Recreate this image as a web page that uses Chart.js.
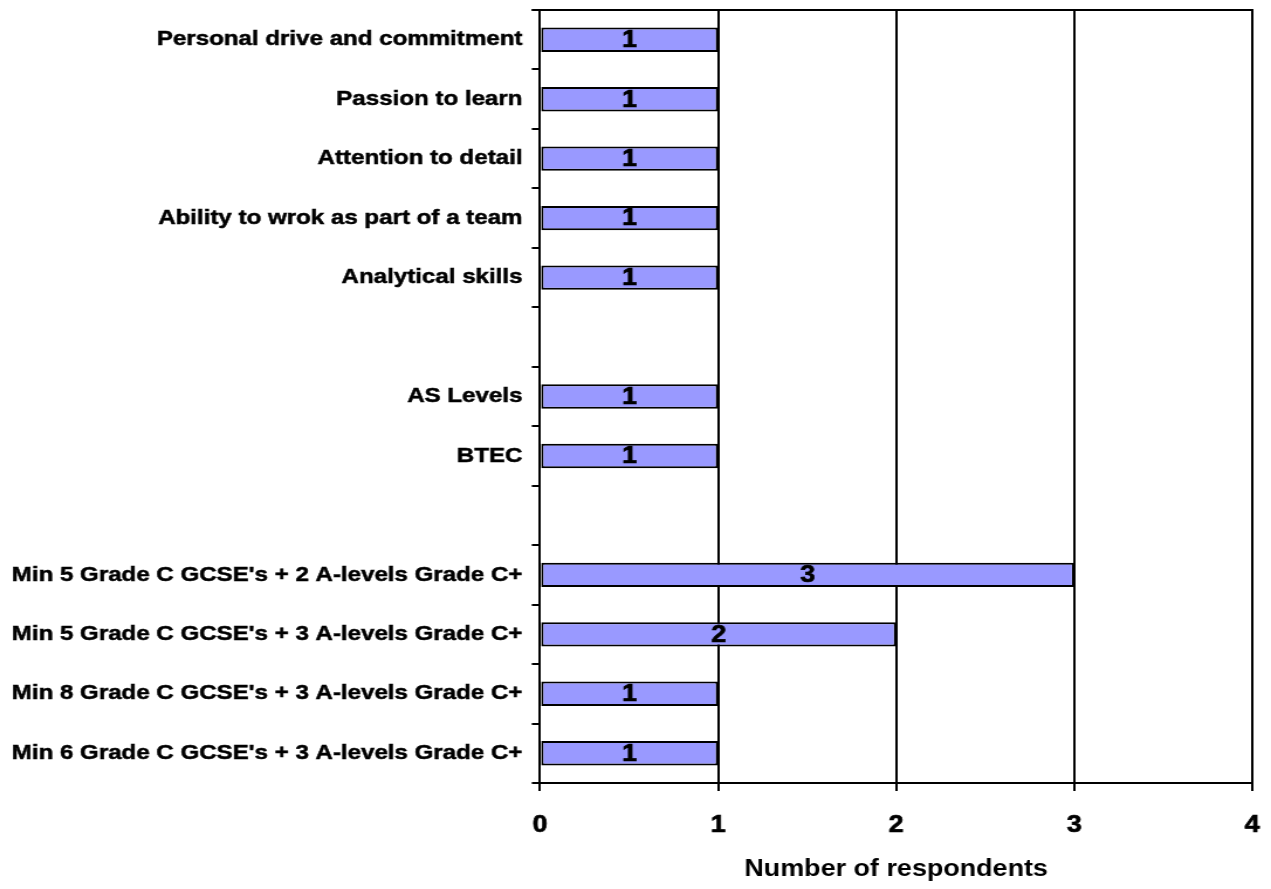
<!DOCTYPE html>
<html>
<head>
<meta charset="utf-8">
<title>Number of respondents</title>
<script src="https://cdn.jsdelivr.net/npm/chart.js@4.4.1/dist/chart.umd.min.js"></script>
<style>
  html, body { margin: 0; padding: 0; background: #ffffff; overflow: hidden; }
</style>
</head>
<body>
<!-- drawing buffer is narrower than its display box, so the whole chart is widened horizontally -->
<canvas id="chart" width="1086" height="889" style="width:1271px;height:889px"></canvas>
<script>
// Requirements named by respondents, listed top to bottom; blank rows separate the groups
const categories = [
  'Personal drive and commitment',
  'Passion to learn',
  'Attention to detail',
  'Ability to wrok as part of a team',
  'Analytical skills',
  '',
  'AS Levels',
  'BTEC',
  '',
  "Min 5 Grade C GCSE's + 2 A-levels Grade C+",
  "Min 5 Grade C GCSE's + 3 A-levels Grade C+",
  "Min 8 Grade C GCSE's + 3 A-levels Grade C+",
  "Min 6 Grade C GCSE's + 3 A-levels Grade C+"
];
const respondents = [1, 1, 1, 1, 1, null, 1, 1, null, 3, 2, 1, 1];
const xTicks = [0, 1, 2, 3, 4];
const xTitle = 'Number of respondents';

const FONT = "'Liberation Sans', Arial, Helvetica, sans-serif";

// Value printed in the middle of each bar
const barValueLabels = {
  id: 'barValueLabels',
  afterDatasetsDraw(chart) {
    const ctx = chart.ctx;
    const meta = chart.getDatasetMeta(0);
    const data = chart.data.datasets[0].data;
    ctx.save();
    ctx.font = 'bold 23px ' + FONT;
    ctx.fillStyle = '#000000';
    ctx.strokeStyle = '#000000';
    ctx.lineWidth = 0.7;
    ctx.textAlign = 'center';
    ctx.textBaseline = 'middle';
    meta.data.forEach((bar, i) => {
      const v = data[i];
      if (v === null || v === undefined) return;
      const x = (bar.base + bar.x) / 2;
      ctx.strokeText(String(v), x, bar.y + 1);
      ctx.fillText(String(v), x, bar.y + 1);
    });
    ctx.restore();
  }
};

// Top edge of the plot frame
const topFrame = {
  id: 'topFrame',
  beforeDatasetsDraw(chart) {
    const { ctx, chartArea } = chart;
    ctx.save();
    ctx.strokeStyle = '#000000';
    ctx.lineWidth = 2;
    ctx.beginPath();
    ctx.moveTo(chartArea.left - 7, chartArea.top);
    ctx.lineTo(chartArea.right + 1, chartArea.top);
    ctx.stroke();
    ctx.restore();
  }
};

new Chart(document.getElementById('chart'), {
  type: 'bar',
  data: {
    labels: categories,
    datasets: [{
      data: respondents,
      backgroundColor: '#9999FF',
      borderColor: '#000000',
      borderWidth: 2,
      borderSkipped: false,
      barPercentage: 0.41,
      categoryPercentage: 1.0
    }]
  },
  options: {
    indexAxis: 'y',
    responsive: false,
    devicePixelRatio: 1,
    animation: false,
    layout: { padding: { left: 0, right: 16, top: 10, bottom: 0 } },
    plugins: {
      legend: { display: false },
      tooltip: { enabled: false },
      title: { display: false }
    },
    scales: {
      x: {
        type: 'linear',
        position: 'bottom',
        min: xTicks[0],
        max: xTicks[xTicks.length - 1],
        afterFit(scale) {
          scale.height = 106;
          scale.paddingLeft = 0;
          scale.paddingRight = 0;
        },
        afterBuildTicks(scale) { scale.ticks = xTicks.map(v => ({ value: v })); },
        ticks: {
          stepSize: 1,
          color: '#000000',
          textStrokeColor: '#000000',
          textStrokeWidth: 0.7,
          padding: 21,
          font: { family: FONT, size: 23, weight: 'bold' }
        },
        grid: {
          color: '#000000',
          lineWidth: 2,
          drawTicks: true,
          tickLength: 8
        },
        border: { display: true, color: '#000000', width: 2 },
        title: {
          display: true,
          text: xTitle,
          color: '#000000',
          padding: { top: 0, bottom: 6 },
          font: { family: FONT, size: 23, weight: 'bold' }
        }
      },
      y: {
        type: 'category',
        position: 'left',
        afterFit(scale) {
          scale.width = 461.4;
          scale.paddingTop = 0;
          scale.paddingBottom = 0;
        },
        ticks: {
          color: '#000000',
          textStrokeColor: '#000000',
          textStrokeWidth: 0.5,
          padding: 8,
          autoSkip: false,
          font: { family: FONT, size: 20.6, weight: 'bold' }
        },
        grid: {
          offset: true,
          drawOnChartArea: false,
          drawTicks: true,
          tickLength: 7,
          color: '#000000',
          lineWidth: 2
        },
        border: { display: true, color: '#000000', width: 2 }
      }
    }
  },
  plugins: [topFrame, barValueLabels]
});
</script>
</body>
</html>
